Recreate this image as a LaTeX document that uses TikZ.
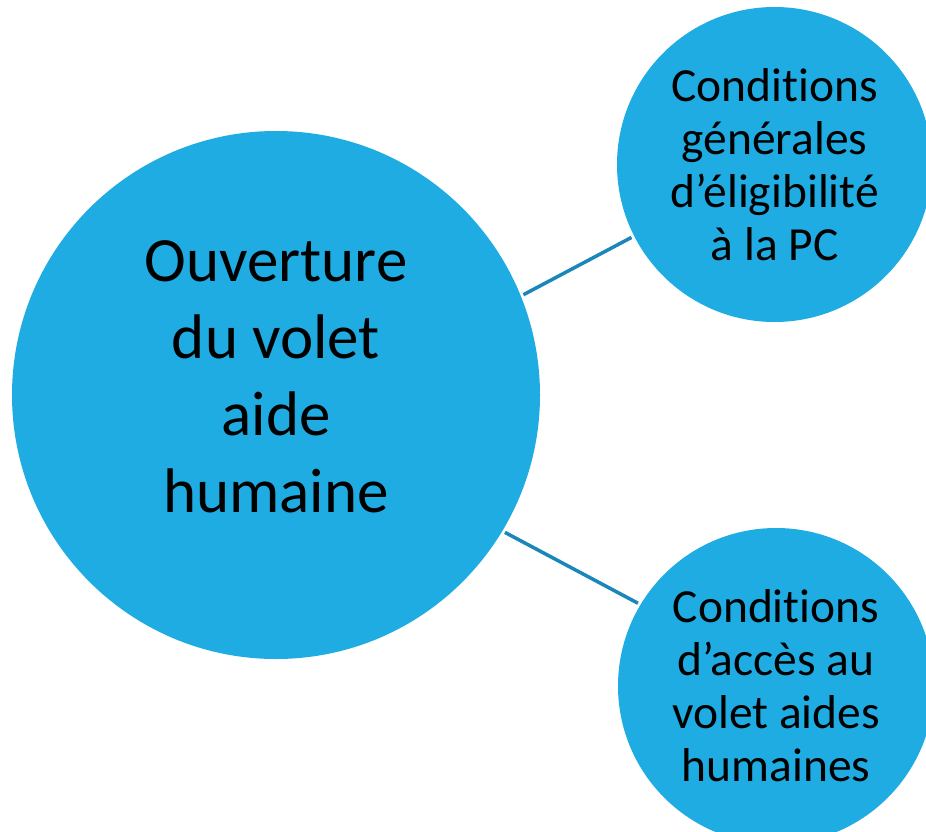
\documentclass[tikz,border=0pt]{standalone}
\usepackage{fontspec}
\setmainfont[Ligatures=NoCommon]{Carlito}
\definecolor{bubblefill}{RGB}{30,172,227}
\definecolor{linkcol}{RGB}{26,134,186}
\newcommand{\nolig}{\kern0pt}
\begin{document}
\begin{tikzpicture}[x=1pt,y=-1pt]
        \tikzstyle{bubble}=[circle,fill=bubblefill,inner sep=0pt,outer sep=0pt,align=center,text=black]
        \tikzstyle{link}=[draw=linkcol,line width=3.5pt,shorten <=3pt,shorten >=3pt]
       \clip (0,0) rectangle (926,832);
       \begin{scope}
         \node [bubble,minimum size=528pt,text depth=36pt,font=\fontsize{63}{77}\selectfont] (c1) at (276,395) {Ouverture\\du volet\\aide\\humaine};
         \node [bubble,minimum size=315pt,font=\fontsize{47.5}{53}\selectfont] (c2) at (774.5,164.5) {Condit\nolig ions\\générales\\d’éligibilité\\à la PC};
         \node [bubble,minimum size=316pt,font=\fontsize{47.5}{53}\selectfont] (c3) at (776,686) {Condit\nolig ions\\d’accès au\\volet aides\\humaines};
         \path[link] (c1.22) -- (c2.207);
         \path[link] (c1.-31) -- (c3.149);
        \end{scope}
      \end{tikzpicture}
\end{document}
